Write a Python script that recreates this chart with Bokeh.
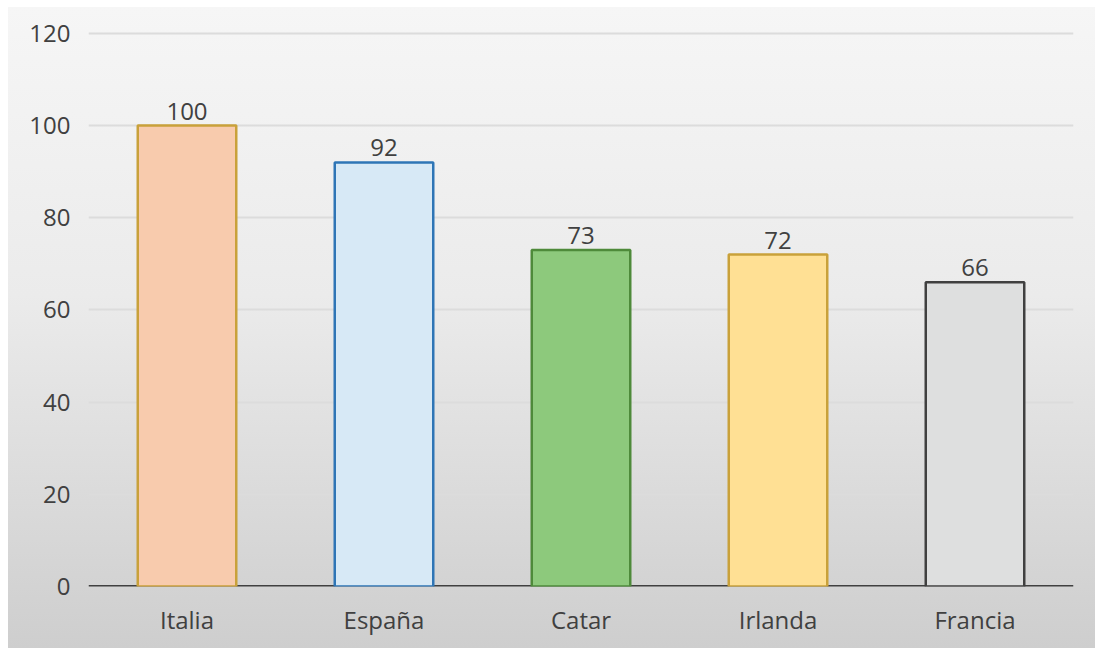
from bokeh.plotting import figure
from bokeh.models import ColumnDataSource, FixedTicker, Span, LabelSet
from bokeh.core.properties import value
from bokeh.embed import file_html
from bokeh.resources import INLINE

# Data
categories = ["Italia", "España", "Catar", "Irlanda", "Francia"]
values = [100, 92, 73, 72, 66]
y_ticks = [0, 20, 40, 60, 80, 100, 120]

# Styles
fill_colors = ["#F8CBAD", "#D7E9F6", "#8DC97C", "#FFE094", "#DEDFDF"]
line_colors = ["#C9A13A", "#2E75B6", "#4E8A3A", "#C9A13A", "#404040"]

FONT = "Open Sans"
TXT = "#404040"
FS = "24px"

source = ColumnDataSource(dict(
    cat=categories, val=values, fill=fill_colors, line=line_colors,
    lbl=[str(v) for v in values],
))

p = figure(
    x_range=categories, y_range=(0, 120.4),
    width=1095, height=648,
    output_backend="svg", toolbar_location=None,
    min_border_left=88, min_border_right=22, min_border_top=31, min_border_bottom=62,
)
p.background_fill_color = None
p.border_fill_color = None
p.outline_line_color = None
p.styles = {
    "background-image": "linear-gradient(to bottom, #F6F6F6 0%, #EBEBEB 45%, #CECECE 100%)",
    "background-repeat": "no-repeat",
    "background-position": "8px 7px",
    "background-size": "1087px 641px",
}

p.vbar(x="cat", top="val", width=0.5, source=source,
       fill_color="fill", line_color="line", line_width=2.5)

labels = LabelSet(x="cat", y="val", text="lbl", source=source,
                  text_align="center", text_baseline="alphabetic", y_offset=6,
                  text_font=value(FONT), text_font_size=value(FS), text_color=TXT)
p.add_layout(labels)

zero = Span(location=0, dimension="width", line_color="#404040", line_width=3, level="underlay")
p.add_layout(zero)

# Axes
p.yaxis.ticker = FixedTicker(ticks=y_ticks)
p.yaxis.axis_line_color = None
p.yaxis.major_tick_line_color = None
p.yaxis.minor_tick_line_color = None
p.yaxis.major_label_standoff = 12
p.yaxis.major_label_text_font = FONT
p.yaxis.major_label_text_font_size = FS
p.yaxis.major_label_text_color = TXT

p.xaxis.axis_line_color = None
p.xaxis.major_tick_line_color = None
p.xaxis.major_label_standoff = 10
p.xaxis.major_label_text_font = FONT
p.xaxis.major_label_text_font_size = FS
p.xaxis.major_label_text_color = TXT

p.xgrid.grid_line_color = None
p.ygrid.grid_line_color = "#DCDCDC"
p.ygrid.grid_line_width = 2
p.ygrid.level = "underlay"

open("out.html", "w").write(file_html(p, INLINE))
